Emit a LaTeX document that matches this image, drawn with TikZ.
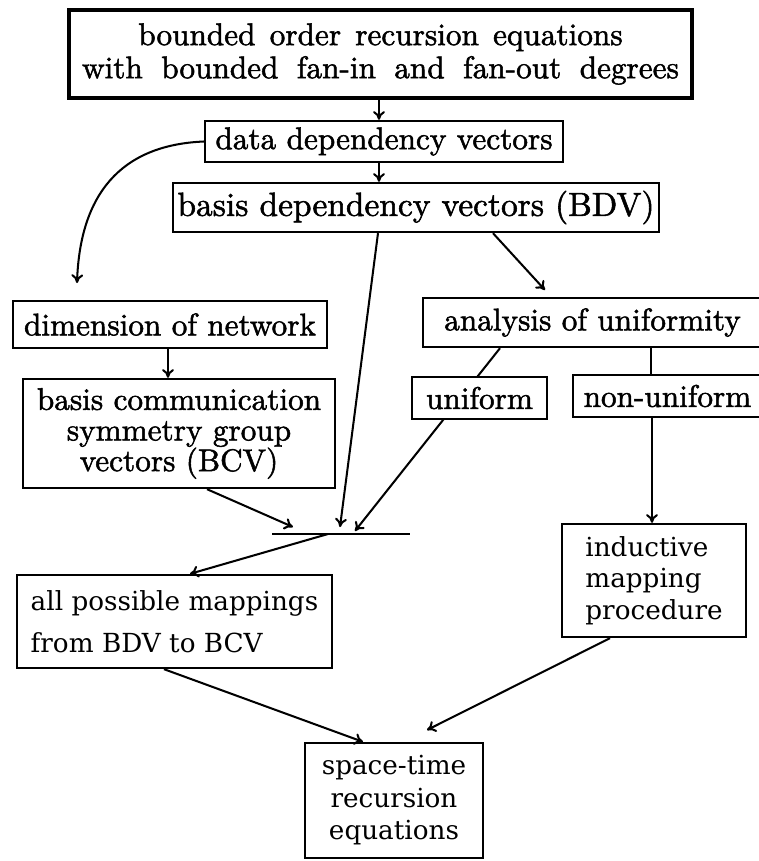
\documentclass[tikz,border=0pt]{standalone}
\usepackage{fontspec}
\newfontfamily\centfont{DejaVu Serif}
\newfontfamily\lmheavy{lmroman10-regular}[Extension=.otf, FakeBold=1.6]
\usetikzlibrary{arrows.meta}
\begin{document}
\begin{tikzpicture}[x=0.32pt,y=-0.32pt,
  box/.style={draw, line width=0.75pt, inner sep=0pt, fill=white, align=center},
  bx/.style 2 args={minimum width={#1*0.32pt}, minimum height={#2*0.32pt}},
  lm/.style={font=\lmheavy\fontsize{10}{#1}\selectfont},
  cs/.style={font=\centfont\fontsize{8.4}{#1}\selectfont},
  arr/.style={-{To[length=2.8pt,width=3.8pt]}, line width=0.65pt},
  ln/.style={line width=0.65pt}]
\useasboundingbox (0,0) rectangle (759,861);
% boxes
\node[box, bx={623}{88}, line width=1pt, lm=10.6pt] (top) at (380.5,54)
  {\makebox[155pt][s]{bounded order recursion equations}\\
   \makebox[191pt][s]{with bounded fan-in and fan-out degrees}};
\node[box, bx={358}{41}, lm=12pt] (dd) at (384,141.5) {data dependency vectors};
\node[box, bx={486}{49}, lm=12pt, font=\lmheavy\fontsize{10.7}{12}\selectfont] (bdv) at (416,207.5)
  {basis dependency vectors (BDV)};
\node[box, bx={314}{47}, lm=12pt] (dim) at (170,324.5) {dimension of network};
\node[box, bx={312}{109}, lm=9.8pt] (bcv) at (179,433.5)
  {basis communication\\ symmetry group\\ vectors (BCV)};
\node[box, bx={339}{49}, lm=12pt] (ana) at (592.5,322.5) {analysis of uniformity};
% connectors from analysis (drawn under the boxes that follow)
\coordinate (tipU) at (355,531);
\draw[arr] (ana.south -| 500,0) -- (tipU);
\draw[ln] (ana.south -| 651,0) -- (651,376);
\node[box, bx={135}{42}, lm=12pt] (uni) at (479.5,398) {uniform};
\node[box, bx={189}{42}, lm=12pt] (nonu) at (667.5,396) {non-uniform};
\node[box, bx={184}{113}, align=left, cs=10.1pt] (ind) at (654,580.5)
  {inductive\\ mapping\\ procedure};
\node[box, bx={315}{93}, align=left, cs=13.4pt] (all) at (174.5,621.5)
  {all possible mappings\\ from BDV to BCV};
\node[box, bx={178}{115}, cs=10.4pt] (st) at (394,800.5)
  {space-time\\ recursion\\ equations};
% bar
\coordinate (barL) at (272,534);
\coordinate (barR) at (410,534);
\draw[line width=0.85pt] (barL) -- (barR);
% connectors
\draw[arr] (top.south -| 379,0) -- (dd.north -| 379,0);
\draw[arr] (dd.south -| 379,0) -- (bdv.north -| 379,0);
\coordinate (tipC) at (77,283);
\draw[arr] (dd.west) .. controls (120,145) and (80,195) .. (tipC);
\draw[arr] (dim.south -| 168,0) -- (bcv.north -| 168,0);
\coordinate (tipB) at (340,527);
\draw[arr] (bdv.south -| 378,0) -- (tipB);
\coordinate (tipA) at (545,290);
\draw[arr] (bdv.south -| 493,0) -- (tipA);
\draw[arr] (nonu.south -| 652,0) -- (ind.north -| 652,0);
\coordinate (tipS) at (293,527);
\draw[arr] (bcv.south -| 207,0) -- (tipS);
\coordinate (barM) at (328,534);
\draw[arr] (barM) -- (all.north -| 190,0);
\draw[arr] (all.south -| 164,0) -- (st.north -| 363,0);
\coordinate (tipI) at (427,730);
\draw[arr] (ind.south -| 610,0) -- (tipI);
\end{tikzpicture}
\end{document}
